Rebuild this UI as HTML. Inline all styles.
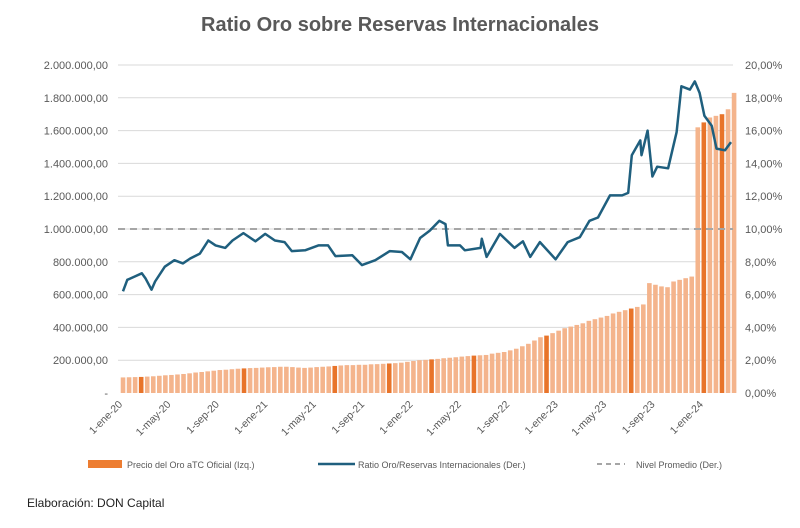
<!DOCTYPE html>
<html><head><meta charset="utf-8"><style>
body{margin:0;background:#fff;font-family:"Liberation Sans",sans-serif}
svg text{font-family:"Liberation Sans",sans-serif}
</style></head><body>
<svg id="c" width="800" height="523" viewBox="0 0 800 523">
<text x="400" y="31" text-anchor="middle" font-size="20" font-weight="bold" fill="#595959">Ratio Oro sobre Reservas Internacionales</text>
<g id="grid"></g><g id="bars"></g><g id="lines"></g><g id="axes"></g>
<g font-size="9" fill="#595959">
<rect x="88" y="460" width="34" height="8" fill="#ed7d31"/>
<text x="127" y="468">Precio del Oro aTC Oficial (Izq.)</text>
<line x1="318" y1="464" x2="355" y2="464" stroke="#1f5f7e" stroke-width="2.5"/>
<text x="358" y="468">Ratio Oro/Reservas Internacionales (Der.)</text>
<line x1="597" y1="464" x2="625" y2="464" stroke="#a6a6a6" stroke-width="2" stroke-dasharray="5 4"/>
<text x="636" y="468">Nivel Promedio (Der.)</text>
</g>
<text x="27" y="507" font-size="12" fill="#222">Elaboración: DON Capital</text>
</svg>
<script>
const leftTicks=["-","200.000,00","400.000,00","600.000,00","800.000,00","1.000.000,00","1.200.000,00","1.400.000,00","1.600.000,00","1.800.000,00","2.000.000,00"];
const rightTicks=["0,00%","2,00%","4,00%","6,00%","8,00%","10,00%","12,00%","14,00%","16,00%","18,00%","20,00%"];
const xLabels=["1-ene-20","1-may-20","1-sep-20","1-ene-21","1-may-21","1-sep-21","1-ene-22","1-may-22","1-sep-22","1-ene-23","1-may-23","1-sep-23","1-ene-24"];
const barValues=[95,96,97,98,100,102,105,108,110,113,116,120,125,128,132,136,140,142,145,148,150,152,153,155,157,158,160,160,158,155,153,155,158,160,162,165,168,170,170,172,172,175,176,178,180,182,185,190,195,200,202,205,208,212,215,218,222,225,228,230,232,240,245,250,260,270,285,300,320,340,350,365,380,395,405,415,425,440,450,460,470,485,495,505,515,525,540,670,660,650,645,680,690,700,710,1620,1650,1680,1690,1700,1730,1830];
const darkBars=[3,20,35,44,51,58,70,84,96,99];
const ratioMonths=[0.25,0.6,1.2,1.8,2.1,2.6,2.9,3.7,4.5,5.2,5.8,6.6,7.3,7.9,8.7,9.3,10.2,11.2,12.0,12.8,13.6,14.2,15.3,16.4,17.2,17.8,19.2,20.0,21.1,22.3,23.3,24.0,24.8,25.6,26.4,26.9,27.1,28.1,28.5,29.8,29.9,30.3,31.4,32.6,33.3,33.9,34.7,36.0,37.0,38.0,38.8,39.5,40.5,41.5,42.0,42.3,43.0,43.1,43.6,44.0,44.4,45.3,46.0,46.4,47.1,47.5,47.9,48.3,48.9,49.3,50.0,50.5];
const ratioValues=[6.2,6.9,7.1,7.3,7.0,6.3,6.8,7.7,8.1,7.9,8.2,8.5,9.3,9.0,8.85,9.3,9.75,9.25,9.7,9.3,9.2,8.65,8.7,9.0,9.0,8.35,8.4,7.8,8.1,8.65,8.6,8.15,9.45,9.9,10.5,10.3,9.0,9.0,8.7,8.85,9.4,8.3,9.7,8.85,9.25,8.3,9.2,8.15,9.2,9.5,10.5,10.7,12.05,12.05,12.2,14.5,15.4,14.5,16.0,13.2,13.8,13.7,15.9,18.7,18.5,19.0,18.3,16.9,16.3,14.9,14.8,15.3];
const avgLevel=10;
const NS="http://www.w3.org/2000/svg";
const X0=120,PXM=12.1,Y0=393,H=328,L=118,R=733;
const xM=m=>X0+m*PXM;
const yL=v=>Y0-v/2000*H;
const yR=p=>Y0-p/20*H;
function mk(t,p,a){const e=document.createElementNS(NS,t);for(const k in a)e.setAttribute(k,a[k]);document.getElementById(p).appendChild(e);return e;}
leftTicks.forEach((t,i)=>{const y=Y0-i*H/10;
 if(i>0){const g=mk('line','grid',{x1:L,x2:R,y1:y,y2:y,stroke:'#d9d9d9','stroke-width':1});
 
 }
 const a=mk('text','axes',{x:108,y:y+4,'text-anchor':'end','font-size':11,fill:'#595959'});a.textContent=t;
 
 
 const b=mk('text','axes',{x:745,y:y+4,'font-size':11,fill:'#595959'});b.textContent=rightTicks[i];
 
 });
xLabels.forEach((t,i)=>{const x=xM(i*4)+3;
 const e=mk('text','axes',{x:x,y:405,'text-anchor':'end','font-size':10.5,fill:'#595959',transform:`rotate(-45 ${x} 405)`});e.textContent=t;
 
 });
barValues.forEach((v,i)=>{const x=xM(i*0.5+0.25);
 const r=mk('rect','bars',{x:x-2.3,y:yL(v),width:4.6,height:Y0-yL(v),fill:darkBars.includes(i)?'#e8742a':'#f4b48c'});
 
 });
const d=mk('line','lines',{x1:L,x2:R,y1:yR(avgLevel),y2:yR(avgLevel),stroke:'#a6a6a6','stroke-width':2,'stroke-dasharray':'7 5'});


const pts=ratioMonths.map((m,i)=>xM(m).toFixed(1)+','+yR(ratioValues[i]).toFixed(1)).join(' ');
const pl=mk('polyline','lines',{points:pts,fill:'none',stroke:'#1f5f7e','stroke-width':2.5,'stroke-linejoin':'round'});


</script>
</body></html>
